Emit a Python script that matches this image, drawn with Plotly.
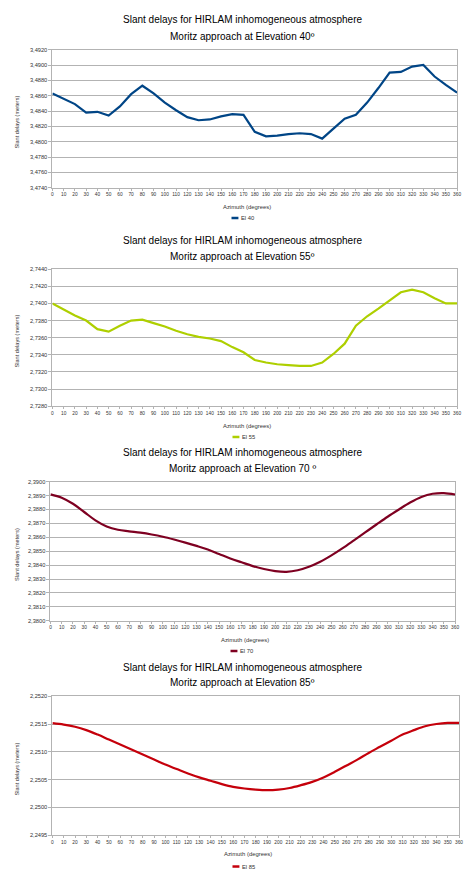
import plotly.graph_objects as go

# Azimuth categories (degrees)
azimuth = list(range(0, 361, 10))

# Slant delays (meters) per elevation
el40 = [3.4863, 3.4856, 3.4849, 3.4838, 3.4839, 3.4834, 3.4846, 3.4862, 3.4873, 3.4863,
        3.4851, 3.4841, 3.4832, 3.4828, 3.4829, 3.4833, 3.4836, 3.4835, 3.4813, 3.4807,
        3.4808, 3.4810, 3.4811, 3.4810, 3.4804, 3.4817, 3.4830, 3.4835, 3.4851, 3.4870,
        3.4890, 3.4891, 3.4898, 3.4900, 3.4885, 3.4874, 3.4864]
el55 = [2.7400, 2.7393, 2.7386, 2.7380, 2.7370, 2.7367, 2.7374, 2.7380, 2.7381, 2.7377,
        2.7373, 2.7368, 2.7364, 2.7361, 2.7359, 2.7356, 2.7349, 2.7343, 2.7334, 2.7331,
        2.7329, 2.7328, 2.7327, 2.7327, 2.7331, 2.7341, 2.7353, 2.7374, 2.7385, 2.7394,
        2.7404, 2.7413, 2.7416, 2.7413, 2.7406, 2.7400, 2.7400]
el70 = [2.38909, 2.38885, 2.38841, 2.38782, 2.38722, 2.38678, 2.38654, 2.38643, 2.38633, 2.38620,
        2.38604, 2.38584, 2.38562, 2.38538, 2.38512, 2.38480, 2.38448, 2.38420, 2.38393, 2.38372,
        2.38357, 2.38352, 2.38363, 2.38388, 2.38424, 2.38470, 2.38522, 2.38578, 2.38635, 2.38692,
        2.38748, 2.38800, 2.38850, 2.38890, 2.38913, 2.38918, 2.38908]
el85 = [2.251515, 2.25149, 2.25145, 2.25139, 2.25131, 2.25122, 2.25113, 2.25104, 2.25095, 2.25086,
        2.25077, 2.25069, 2.25061, 2.25054, 2.25048, 2.25042, 2.25037, 2.25034, 2.25032, 2.25031,
        2.25032, 2.25035, 2.25040, 2.25046, 2.25054, 2.25064, 2.25075, 2.25086, 2.25098, 2.25109,
        2.25120, 2.25131, 2.25139, 2.25146, 2.25150, 2.25152, 2.25152]

series = [el40, el55, el70, el85]
names = ["El 40", "El 55", "El 70", "El 85"]
subtitles = ["Moritz approach at Elevation 40º", "Moritz approach at Elevation 55º",
             "Moritz approach at Elevation 70 º", "Moritz approach at Elevation 85º"]
y_ranges = [(3.4740, 3.4920), (2.7280, 2.7440), (2.3800, 2.3900), (2.2495, 2.2520)]
y_dticks = [0.002, 0.002, 0.001, 0.0005]
colors = ["#004586", "#aecf00", "#7e0021", "#c5000b"]
shapes_line = ["linear", "linear", "spline", "spline"]

W, H = 466, 872
# plot boxes in pixels: (left, right, top, bottom)
boxes = [(52, 461, 47, 186), (52, 461, 268, 406), (50, 459, 482, 622), (52, 463, 698, 838)]
title_y = [(17, 33.5), (239, 255), (452.5, 468.5), (669, 684.5)]
xtitle_y = [205.5, 425.5, 641, 857]
legend_y = [216.5, 437, 652.5, 869.5]
legend_x = [233, 234, 232, 234]

FONT = "Liberation Sans, Arial, sans-serif"
GRID = "#b3b3b3"

def px(x):
    return x / W

def py(y):
    return 1 - y / H

fig = go.Figure()
layout = dict(width=W, height=H, margin=dict(l=0, r=0, t=0, b=0), autosize=False,
              paper_bgcolor="white", plot_bgcolor="white", showlegend=False,
              separators=",.", font=dict(family=FONT, color="#333333"))
annotations = []
shapes = []

for i in range(4):
    n = "" if i == 0 else str(i + 1)
    l, r, t, b = boxes[i]
    fig.add_trace(go.Scatter(x=azimuth, y=series[i], mode="lines", name=names[i],
                             line=dict(color=colors[i], width=2.2, shape=shapes_line[i],
                                       smoothing=1.0),
                             xaxis="x" + n, yaxis="y" + n))
    layout["xaxis" + n] = dict(domain=[px(l), px(r)], anchor="y" + n, range=[0, 360],
                               tickvals=azimuth, ticktext=[str(a) for a in azimuth],
                               tickangle=0,
                               ticks="outside", ticklen=2, tickcolor=GRID, showgrid=False,
                               showline=True, linecolor=GRID, linewidth=1, mirror=True,
                               zeroline=False, tickfont=dict(size=4.8, color="#333333"))
    y0, y1 = y_ranges[i]
    layout["yaxis" + n] = dict(domain=[py(b), py(t)], anchor="x" + n, range=[y0, y1],
                               dtick=y_dticks[i], tick0=y0, tickformat=".4f",
                               ticks="outside", ticklen=3, tickcolor=GRID,
                               showgrid=True, gridcolor=GRID, gridwidth=1,
                               showline=True, linecolor=GRID, linewidth=1, mirror=True,
                               zeroline=False, tickfont=dict(size=5.7, color="#333333"))
    cx = 244
    annotations.append(dict(text="Slant delays for HIRLAM inhomogeneous atmosphere",
                            x=px(cx), y=py(title_y[i][0]), xref="paper", yref="paper",
                            showarrow=False, xanchor="center", yanchor="middle",
                            font=dict(size=10, color="#000000")))
    annotations.append(dict(text=subtitles[i], x=px(cx), y=py(title_y[i][1]),
                            xref="paper", yref="paper", showarrow=False,
                            xanchor="center", yanchor="middle",
                            font=dict(size=10, color="#000000")))
    annotations.append(dict(text="Azimuth (degrees)", x=px((l + r) / 2 - 8), y=py(xtitle_y[i]),
                            xref="paper", yref="paper", showarrow=False,
                            xanchor="center", yanchor="middle",
                            font=dict(size=5.9, color="#333333")))
    annotations.append(dict(text="Slant delays (meters)", x=px(16), y=py((t + b) / 2 + 3),
                            xref="paper", yref="paper", showarrow=False, textangle=-90,
                            xanchor="center", yanchor="middle",
                            font=dict(size=5.6, color="#333333")))
    lx = legend_x[i]
    shapes.append(dict(type="line", xref="paper", yref="paper",
                       x0=px(lx), x1=px(lx + 7), y0=py(legend_y[i]), y1=py(legend_y[i]),
                       line=dict(color=colors[i], width=2.5)))
    annotations.append(dict(text=names[i], x=px(lx + 8), y=py(legend_y[i]),
                            xref="paper", yref="paper", showarrow=False,
                            xanchor="left", yanchor="middle",
                            font=dict(size=5.8, color="#333333")))

layout["annotations"] = annotations
layout["shapes"] = shapes
fig.update_layout(**layout)
fig.write_html("out.html")
